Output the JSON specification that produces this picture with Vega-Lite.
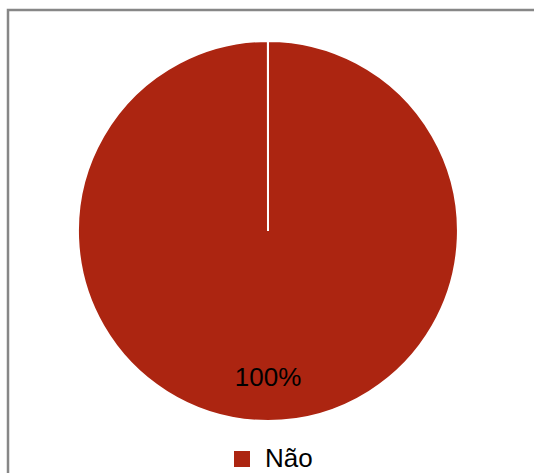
{
  "$schema": "https://vega.github.io/schema/vega-lite/v6.json",
  "autosize": {"type": "none"},
  "padding": {"left": 8, "top": 10, "right": 0, "bottom": 0},
  "width": 526,
  "height": 463,
  "background": "white",
  "view": {"stroke": "#878787", "strokeWidth": 2.5, "fill": "white", "strokeDash": [527, 988, 465, 10]},
  "config": {
    "view": {"stroke": "#878787", "strokeWidth": 2.5},
    "font": "Liberation Sans"
  },
  "data": {"values": [{"resposta": "Não", "share": 1}]},
  "encoding": {
    "theta": {"field": "share", "type": "quantitative", "stack": true, "scale": {"domain": [0, 1.0001]}},
    "color": {
      "field": "resposta",
      "type": "nominal",
      "scale": {"range": ["#AC2511"]},
      "legend": {
        "title": null,
        "orient": "none",
        "legendX": 221,
        "legendY": 436,
        "symbolType": "square",
        "symbolSize": 256,
        "symbolStrokeWidth": 0,
        "labelFontSize": 26,
        "labelFont": "Liberation Sans",
        "labelColor": "#000000",
        "labelOffset": 10,
        "padding": 0
      }
    }
  },
  "layer": [
    {
      "mark": {"type": "arc", "x": 260, "y": 221, "radius": 190, "stroke": "white", "strokeWidth": 2}
    },
    {
      "mark": {"type": "text", "x": 260, "y": 221, "radius": 147, "fontSize": 26, "font": "Liberation Sans"},
      "encoding": {
        "text": {"field": "share", "type": "quantitative", "format": ".0%"},
        "color": {"value": "#000000"}
      }
    }
  ]
}
